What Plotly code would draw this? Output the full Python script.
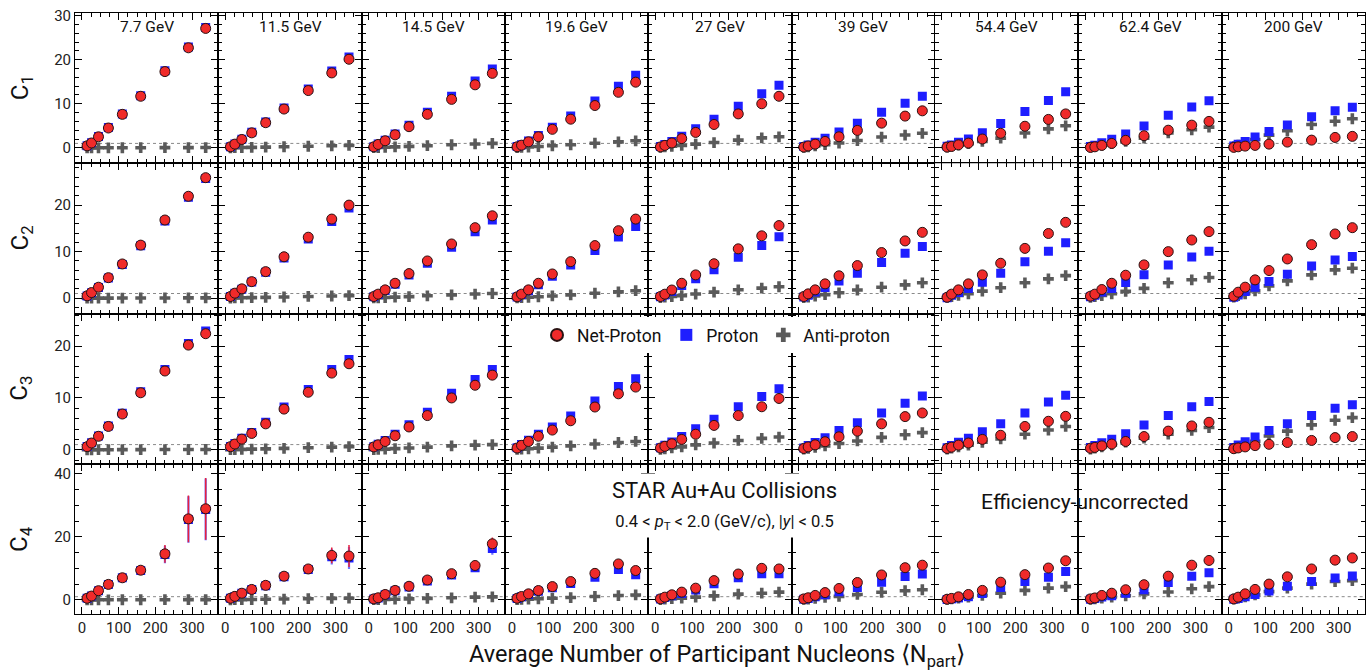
import plotly.graph_objects as go
from plotly.subplots import make_subplots

# ---------------- data ----------------
npart = [14, 26, 45, 72, 110, 160, 226, 290, 337]
energies = ["7.7 GeV", "11.5 GeV", "14.5 GeV", "19.6 GeV", "27 GeV",
            "39 GeV", "54.4 GeV", "62.4 GeV", "200 GeV"]
row_labels = ["C<sub>1</sub>", "C<sub>2</sub>", "C<sub>3</sub>", "C<sub>4</sub>"]
x_ticks = [0, 100, 200, 300]

net_c1 = [
    [0.45, 1.1, 2.5, 4.5, 7.6, 11.7, 17.3, 22.7, 27.1],
    [0.23, 0.84, 1.9, 3.4, 5.7, 8.8, 13.0, 17.0, 20.1],
    [0.23, 0.77, 1.6, 2.95, 4.8, 7.6, 11.0, 14.3, 16.9],
    [0.23, 0.6, 1.36, 2.5, 4.2, 6.5, 9.6, 12.6, 14.9],
    [0.2, 0.55, 1.1, 2.1, 3.5, 5.3, 7.7, 10.0, 11.7],
    [0.16, 0.42, 0.84, 1.45, 2.5, 3.95, 5.6, 7.2, 8.4],
    [0.16, 0.32, 0.68, 1.07, 2.0, 3.3, 4.9, 6.45, 7.7],
    [0.1, 0.23, 0.55, 1.0, 1.7, 2.75, 4.0, 5.15, 6.0],
    [0.1, 0.23, 0.39, 0.55, 0.84, 1.3, 1.75, 2.36, 2.6]]
pro_c1 = [
    [0.5, 1.15, 2.55, 4.6, 7.7, 11.8, 17.5, 22.9, 27.3],
    [0.25, 0.88, 1.97, 3.51, 5.87, 9.05, 13.36, 17.46, 20.64],
    [0.27, 0.85, 1.73, 3.16, 5.13, 8.08, 11.7, 15.18, 17.9],
    [0.28, 0.7, 1.54, 2.8, 4.67, 7.2, 10.65, 13.95, 16.5],
    [0.3, 0.75, 1.45, 2.65, 4.35, 6.5, 9.45, 12.25, 14.2],
    [0.28, 0.67, 1.29, 2.17, 3.6, 5.6, 8.05, 10.1, 11.7],
    [0.34, 0.67, 1.28, 2.02, 3.45, 5.5, 8.25, 10.75, 12.7],
    [0.28, 0.58, 1.15, 1.95, 3.15, 4.95, 7.4, 9.25, 10.7],
    [0.39, 0.84, 1.45, 2.43, 3.73, 5.16, 7.05, 8.4, 9.2]]
anti_c1 = [
    [0.0, 0.0, 0.01, 0.01, 0.02, 0.03, 0.04, 0.05, 0.06],
    [0.02, 0.04, 0.07, 0.11, 0.17, 0.25, 0.36, 0.46, 0.54],
    [0.04, 0.08, 0.13, 0.21, 0.33, 0.48, 0.7, 0.88, 1.0],
    [0.05, 0.1, 0.18, 0.3, 0.47, 0.7, 1.05, 1.35, 1.6],
    [0.1, 0.2, 0.35, 0.55, 0.85, 1.2, 1.75, 2.25, 2.5],
    [0.12, 0.25, 0.45, 0.72, 1.1, 1.65, 2.45, 2.9, 3.3],
    [0.18, 0.35, 0.6, 0.95, 1.45, 2.2, 3.35, 4.3, 5.0],
    [0.18, 0.35, 0.6, 0.95, 1.45, 2.2, 3.4, 4.1, 4.7],
    [0.29, 0.61, 1.06, 1.88, 2.89, 3.86, 5.3, 6.04, 6.6]]

net_c2 = [
    [0.5, 1.2, 2.35, 4.4, 7.35, 11.4, 16.8, 21.9, 25.9],
    [0.35, 1.07, 2.0, 3.55, 5.7, 8.9, 13.1, 17.0, 20.0],
    [0.35, 0.86, 1.78, 3.2, 5.28, 8.0, 11.65, 15.15, 17.7],
    [0.28, 0.86, 1.78, 3.2, 5.2, 7.85, 11.3, 14.5, 17.0],
    [0.35, 0.85, 1.75, 3.2, 5.0, 7.4, 10.6, 13.4, 15.6],
    [0.35, 0.92, 1.78, 3.07, 4.8, 7.0, 9.8, 12.3, 14.15],
    [0.2, 0.86, 1.78, 3.07, 5.0, 7.5, 10.7, 13.9, 16.3],
    [0.43, 0.86, 1.85, 3.2, 4.93, 7.15, 10.0, 12.5, 14.3],
    [0.43, 1.28, 2.36, 3.93, 5.93, 8.43, 11.5, 13.8, 15.15]]
pro_c2 = [
    [0.48, 1.17, 2.3, 4.33, 7.25, 11.25, 16.6, 21.7, 25.7],
    [0.33, 1.03, 1.93, 3.45, 5.55, 8.65, 12.7, 16.5, 19.4],
    [0.31, 0.78, 1.65, 3.0, 4.95, 7.5, 10.95, 14.3, 16.8],
    [0.23, 0.76, 1.6, 2.9, 4.73, 7.15, 10.25, 13.15, 15.4],
    [0.28, 0.7, 1.45, 2.7, 4.15, 6.1, 8.8, 11.3, 13.2],
    [0.25, 0.65, 1.3, 2.3, 3.7, 5.35, 7.65, 9.65, 11.1],
    [0.1, 0.6, 1.2, 2.1, 3.4, 5.35, 7.85, 10.1, 11.9],
    [0.3, 0.6, 1.3, 2.1, 3.35, 5.05, 7.1, 8.85, 10.1],
    [0.2, 0.7, 1.42, 2.36, 3.56, 5.15, 6.93, 8.2, 8.93]]
anti_c2 = [
    [0.0, 0.0, 0.01, 0.01, 0.02, 0.03, 0.04, 0.05, 0.06],
    [0.02, 0.04, 0.07, 0.11, 0.16, 0.25, 0.36, 0.46, 0.54],
    [0.04, 0.08, 0.13, 0.21, 0.33, 0.5, 0.7, 0.88, 1.0],
    [0.05, 0.1, 0.18, 0.3, 0.47, 0.7, 1.05, 1.35, 1.6],
    [0.1, 0.2, 0.35, 0.55, 0.88, 1.3, 1.8, 2.15, 2.45],
    [0.12, 0.25, 0.45, 0.75, 1.15, 1.75, 2.35, 2.85, 3.3],
    [0.15, 0.35, 0.6, 0.95, 1.5, 2.25, 3.3, 4.15, 4.85],
    [0.15, 0.32, 0.57, 0.95, 1.45, 2.1, 3.3, 3.95, 4.45],
    [0.25, 0.55, 0.95, 1.57, 2.64, 3.71, 5.0, 6.07, 6.44]]

net_c3 = [
    [0.6, 1.3, 2.6, 4.5, 6.9, 11.0, 15.2, 20.2, 22.4],
    [0.6, 1.1, 2.05, 3.15, 5.0, 7.85, 11.1, 14.8, 16.6],
    [0.55, 0.95, 1.6, 2.7, 4.4, 6.6, 10.0, 12.45, 14.4],
    [0.33, 0.85, 1.6, 2.6, 3.8, 5.6, 8.25, 10.8, 12.1],
    [0.33, 0.66, 1.15, 2.0, 3.0, 4.7, 6.6, 8.3, 9.9],
    [0.25, 0.55, 0.95, 1.55, 2.5, 3.6, 5.0, 6.4, 7.1],
    [0.25, 0.5, 0.9, 1.3, 2.0, 2.8, 4.5, 5.5, 6.45],
    [0.3, 0.45, 0.75, 1.1, 1.6, 2.55, 3.6, 4.6, 5.3],
    [0.2, 0.35, 0.55, 0.8, 1.05, 1.4, 1.8, 2.35, 2.55]]
pro_c3 = [
    [0.62, 1.35, 2.67, 4.6, 7.05, 11.2, 15.5, 20.5, 22.9],
    [0.65, 1.2, 2.2, 3.35, 5.3, 8.25, 11.65, 15.5, 17.4],
    [0.6, 1.05, 1.8, 3.0, 4.85, 7.25, 10.9, 13.55, 15.5],
    [0.4, 1.0, 1.85, 3.0, 4.4, 6.5, 9.4, 12.2, 13.7],
    [0.4, 0.85, 1.5, 2.55, 4.05, 5.9, 8.3, 10.3, 11.8],
    [0.35, 0.8, 1.4, 2.3, 3.7, 5.2, 7.1, 9.0, 10.4],
    [0.4, 0.8, 1.45, 2.2, 3.5, 5.0, 7.1, 9.2, 10.5],
    [0.45, 0.8, 1.35, 2.05, 3.1, 4.8, 6.6, 8.3, 9.3],
    [0.45, 0.9, 1.55, 2.45, 3.7, 5.0, 6.6, 8.0, 8.7]]
anti_c3 = [
    [0.0, 0.0, 0.01, 0.01, 0.02, 0.03, 0.04, 0.05, 0.06],
    [0.02, 0.05, 0.08, 0.12, 0.18, 0.27, 0.4, 0.5, 0.6],
    [0.04, 0.08, 0.13, 0.22, 0.35, 0.5, 0.75, 0.9, 1.0],
    [0.06, 0.12, 0.2, 0.32, 0.5, 0.75, 1.1, 1.4, 1.6],
    [0.1, 0.2, 0.35, 0.55, 0.95, 1.3, 1.8, 2.2, 2.45],
    [0.12, 0.25, 0.45, 0.75, 1.2, 1.7, 2.4, 2.9, 3.3],
    [0.15, 0.3, 0.55, 0.9, 1.45, 2.1, 3.0, 3.8, 4.5],
    [0.15, 0.33, 0.58, 0.95, 1.5, 2.25, 3.0, 3.75, 4.3],
    [0.25, 0.55, 1.0, 1.65, 2.65, 3.6, 4.8, 5.7, 6.2]]

net_c4 = [
    [0.5, 1.2, 2.9, 4.9, 7.0, 9.4, 14.6, 25.7, 28.9],
    [0.5, 1.1, 2.1, 3.3, 4.6, 7.5, 9.8, 14.1, 13.9],
    [0.3, 0.65, 1.7, 3.0, 4.3, 6.3, 8.3, 10.9, 17.8],
    [0.5, 1.05, 1.9, 2.95, 4.2, 5.8, 8.4, 11.4, 9.3],
    [0.3, 0.85, 1.6, 2.45, 3.7, 6.1, 8.2, 10.0, 9.8],
    [0.3, 0.65, 1.4, 2.3, 3.6, 5.5, 7.9, 10.2, 11.0],
    [0.2, 0.45, 0.95, 1.7, 3.0, 5.6, 8.0, 10.1, 12.4],
    [0.3, 0.6, 1.4, 2.1, 3.2, 4.8, 7.5, 11.0, 12.5],
    [0.3, 0.85, 1.9, 3.3, 5.0, 7.3, 9.8, 12.6, 13.3]]
pro_c4 = [
    [0.5, 1.2, 2.9, 4.9, 7.0, 9.3, 14.4, 25.5, 28.7],
    [0.5, 1.05, 2.05, 3.25, 4.5, 7.3, 9.6, 13.7, 13.3],
    [0.3, 0.6, 1.6, 2.85, 4.1, 6.0, 7.9, 10.2, 16.3],
    [0.45, 0.95, 1.7, 2.7, 3.8, 5.2, 7.2, 9.6, 8.0],
    [0.25, 0.7, 1.3, 2.0, 3.1, 5.1, 7.0, 8.3, 8.3],
    [0.2, 0.45, 1.0, 1.6, 2.6, 3.9, 5.6, 7.4, 8.2],
    [0.1, 0.3, 0.6, 1.0, 2.0, 3.9, 5.8, 7.2, 9.0],
    [0.2, 0.4, 0.9, 1.3, 2.1, 3.2, 5.5, 7.5, 8.6],
    [0.15, 0.45, 1.0, 1.7, 2.8, 4.3, 5.8, 6.9, 7.6]]
anti_c4 = [
    [0.0, 0.0, 0.01, 0.01, 0.02, 0.03, 0.04, 0.05, 0.06],
    [0.02, 0.04, 0.07, 0.1, 0.16, 0.25, 0.35, 0.45, 0.52],
    [0.04, 0.08, 0.13, 0.2, 0.3, 0.45, 0.65, 0.85, 0.95],
    [0.06, 0.12, 0.2, 0.32, 0.5, 0.72, 1.05, 1.35, 1.55],
    [0.1, 0.2, 0.35, 0.55, 0.85, 1.25, 1.8, 2.1, 2.45],
    [0.12, 0.25, 0.45, 0.75, 1.1, 1.7, 2.4, 2.9, 3.2],
    [0.15, 0.3, 0.55, 0.9, 1.4, 2.1, 3.0, 3.7, 4.2],
    [0.15, 0.3, 0.55, 0.9, 1.3, 1.9, 2.5, 3.5, 4.2],
    [0.25, 0.55, 0.95, 1.6, 2.6, 3.7, 5.0, 5.8, 6.1]]
err_c4 = [
    [0.15, 0.2, 0.3, 0.45, 0.6, 0.9, 2.8, 7.4, 9.8],
    [0.1, 0.15, 0.25, 0.35, 0.5, 0.7, 1.0, 2.5, 3.5],
    [0.1, 0.15, 0.2, 0.3, 0.4, 0.6, 0.8, 1.2, 2.0],
    [0.1, 0.1, 0.15, 0.2, 0.3, 0.5, 0.7, 1.0, 1.2],
    [0.05, 0.1, 0.15, 0.2, 0.3, 0.4, 0.6, 0.8, 1.0],
    [0.05, 0.1, 0.1, 0.15, 0.2, 0.3, 0.5, 0.6, 0.8],
    [0.05, 0.05, 0.1, 0.15, 0.2, 0.3, 0.4, 0.5, 0.7],
    [0.05, 0.05, 0.1, 0.15, 0.2, 0.3, 0.4, 0.5, 0.7],
    [0.05, 0.05, 0.1, 0.1, 0.15, 0.2, 0.3, 0.4, 0.5]]

net_all = [net_c1, net_c2, net_c3, net_c4]
pro_all = [pro_c1, pro_c2, pro_c3, pro_c4]
anti_all = [anti_c1, anti_c2, anti_c3, anti_c4]
err_all = [None, None, None, err_c4]

y_ranges = [[-3.5, 30.6], [-3.3, 29.0], [-2.7, 26.3], [-4.5, 43.2]]
y_dtick = [10, 10, 10, 20]
y_minor = [2, 2, 2, 5]

# ---------------- figure ----------------
W, H = 1369, 671
ML, MR, MT, MB = 75, 4, 13, 57
PW, PH = W - ML - MR, H - MT - MB
FONT = "Roboto, 'Open Sans', sans-serif"

fig = make_subplots(rows=4, cols=9, horizontal_spacing=0, vertical_spacing=0)

for r in range(4):
    for c in range(9):
        first = (r == 0 and c == 0)
        err = err_all[r]
        fig.add_trace(go.Scatter(
            x=npart, y=anti_all[r][c], mode="markers", name="Anti-proton",
            legendgroup="anti", showlegend=first, legendrank=3,
            marker=dict(symbol="cross", size=9, color="#5a5a5a",
                        line=dict(width=0))), row=r + 1, col=c + 1)
        fig.add_trace(go.Scatter(
            x=npart, y=pro_all[r][c], mode="markers", name="Proton",
            legendgroup="pro", showlegend=first, legendrank=2,
            error_y=(dict(type="data", array=err[c], color="#7070ff",
                          thickness=2.2, width=0) if err else None),
            marker=dict(symbol="square", size=9, color="#1e1eff",
                        line=dict(width=0))), row=r + 1, col=c + 1)
        fig.add_trace(go.Scatter(
            x=npart, y=net_all[r][c], mode="markers", name="Net-Proton",
            legendgroup="net", showlegend=first, legendrank=1,
            error_y=(dict(type="data", array=err[c], color="#e8203c",
                          thickness=1.5, width=0) if err else None),
            marker=dict(symbol="circle", size=10, color="#f02a2a",
                        line=dict(color="#2a1212", width=1))),
            row=r + 1, col=c + 1)
        fig.add_hline(y=1, row=r + 1, col=c + 1, layer="below",
                      line=dict(color="#8a8a8a", width=1, dash="dot"))

        fig.update_xaxes(
            row=r + 1, col=c + 1, range=[-19, 371.5], tickvals=x_ticks,
            showticklabels=(r == 3), ticks="inside", ticklen=7,
            tickcolor="black", showline=True, linecolor="black",
            linewidth=1, mirror="allticks", showgrid=False, zeroline=False,
            tickfont=dict(family=FONT, size=15, color="#222"),
            minor=dict(ticks="inside", ticklen=4, dtick=25, tick0=0,
                       tickcolor="black", showgrid=False))
        fig.update_yaxes(
            row=r + 1, col=c + 1, range=y_ranges[r], dtick=y_dtick[r], tick0=0,
            showticklabels=(c == 0), ticks="inside", ticklen=7,
            tickcolor="black", showline=True, linecolor="black",
            linewidth=1, mirror="allticks", showgrid=False, zeroline=False,
            tickfont=dict(family=FONT, size=15, color="#222"),
            minor=dict(ticks="inside", ticklen=4, dtick=y_minor[r], tick0=0,
                       tickcolor="black", showgrid=False))

annotations = []
for c in range(9):
    sfx = "" if c == 0 else str(c + 1)
    annotations.append(dict(
        text=energies[c], x=0.5, xref=f"x{sfx} domain", y=1 - 14 / 150.25,
        yref=f"y{sfx} domain", showarrow=False, xanchor="center",
        yanchor="middle", font=dict(family=FONT, size=15.5, color="#111")))


def py(px):
    return (H - MB - px) / PH


def px_(x):
    return (x - ML) / PW


for r in range(4):
    annotations.append(dict(
        text=row_labels[r], x=px_(21), y=py(MT + PH / 4 * (r + 0.5)),
        xref="paper", yref="paper", showarrow=False, textangle=-90,
        xanchor="center", yanchor="middle",
        font=dict(family=FONT, size=24, color="#111")))

annotations.append(dict(
    text="STAR Au+Au Collisions<br><span style='font-size:16.5px'>0.4 &lt; "
         "<i>p</i><sub>T</sub> &lt; 2.0 (GeV/c), |<i>y</i>| &lt; 0.5</span>",
    x=px_(724), y=py(506), xref="paper", yref="paper", showarrow=False,
    xanchor="center", yanchor="middle", bgcolor="white", borderpad=4,
    font=dict(family=FONT, size=22, color="#111")))
annotations.append(dict(
    text="Efficiency-uncorrected", x=px_(1085), y=py(502), xref="paper",
    yref="paper", showarrow=False, xanchor="center", yanchor="middle",
    font=dict(family=FONT, size=21, color="#111")))
annotations.append(dict(
    text="Average Number of Participant Nucleons ⟨N<sub>part</sub>⟩",
    x=px_(717), y=py(655), xref="paper", yref="paper", showarrow=False,
    xanchor="center", yanchor="middle",
    font=dict(family=FONT, size=23.5, color="#111")))

fig.update_layout(
    width=W, height=H, margin=dict(l=ML, r=MR, t=MT, b=MB),
    paper_bgcolor="white", plot_bgcolor="white",
    font=dict(family=FONT, color="#111"),
    annotations=annotations,
    legend=dict(orientation="h", x=px_(537), y=py(335), xanchor="left",
                yanchor="middle", bgcolor="white", itemsizing="constant",
                font=dict(family=FONT, size=17.5, color="#111"),
                tracegroupgap=0),
)

fig.write_html("out.html",
               config={"displayModeBar": False},
               post_script="document.body.style.margin='0';"
                           "document.body.style.overflow='hidden';")
